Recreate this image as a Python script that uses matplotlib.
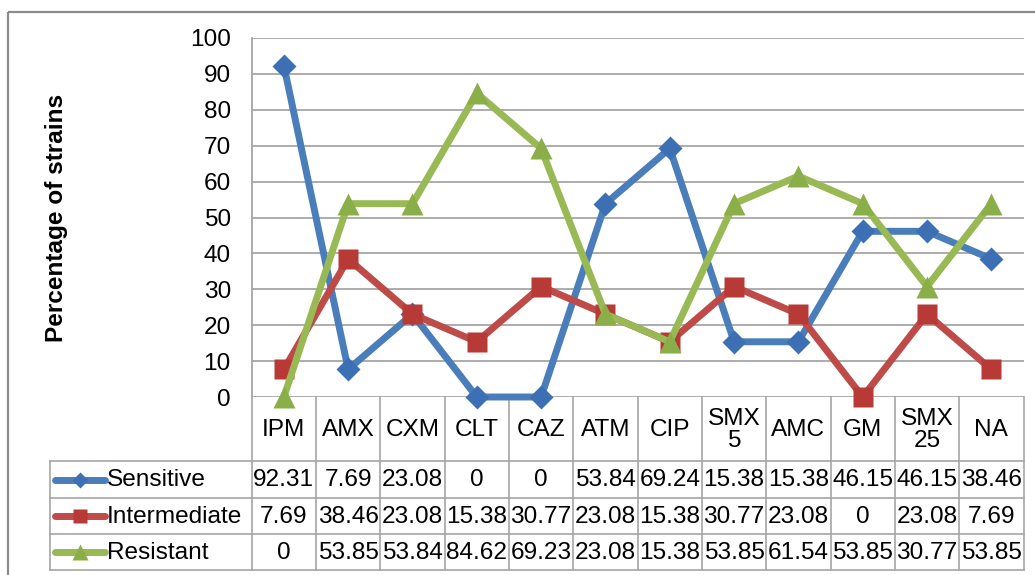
import matplotlib.pyplot as plt
from matplotlib.patches import Rectangle

plt.rcParams['font.family'] = ['Liberation Sans', 'DejaVu Sans']

# data
drugs = ['IPM', 'AMX', 'CXM', 'CLT', 'CAZ', 'ATM', 'CIP', 'SMX\n5', 'AMC', 'GM', 'SMX\n25', 'NA']
sensitive = [92.31, 7.69, 23.08, 0, 0, 53.84, 69.24, 15.38, 15.38, 46.15, 46.15, 38.46]
intermediate = [7.69, 38.46, 23.08, 15.38, 30.77, 23.08, 15.38, 30.77, 23.08, 0, 23.08, 7.69]
resistant = [0, 53.85, 53.84, 84.62, 69.23, 23.08, 15.38, 53.85, 61.54, 53.85, 30.77, 53.85]
series_names = ['Sensitive', 'Intermediate', 'Resistant']
series = [sensitive, intermediate, resistant]

colors = ['#4A7EBB', '#BE4B48', '#98B954']
mcolors = ['#3C6FB4', '#B73A36', '#8AAE48']
markers = ['D', 's', '^']
msizes = [12, 14, 16]
grey = '#A6A6A6'
fs = 17.6

W, H = 1035, 575
fig = plt.figure(figsize=(W / 100, H / 100), dpi=100)

# layout in pixels
left, right, top, bottom = 251.7, 1023.5, 38, 397
row_lines = [461, 498, 534, 570]
tab_left = 50
colw = (right - left) / len(drugs)

# background axes in pixel coords for the data table + outer border
bg = fig.add_axes([0, 0, 1, 1], zorder=0)
bg.set_xlim(0, W)
bg.set_ylim(H, 0)
bg.axis('off')
bg.add_patch(Rectangle((8, 12), W, H, fill=False, ec='#8C8C8C', lw=1.6))

for i in range(len(drugs) + 1):
    bg.plot([left + i * colw] * 2, [bottom, row_lines[-1]], color=grey, lw=1.2)
bg.plot([tab_left, tab_left], [row_lines[0], row_lines[-1]], color=grey, lw=1.2)
for y in row_lines:
    bg.plot([tab_left, right], [y, y], color=grey, lw=1.2)

for i, d in enumerate(drugs):
    bg.text(left + (i + 0.5) * colw, (bottom + row_lines[0]) / 2 + 1, d,
            ha='center', va='center', fontsize=fs, linespacing=0.95)

for r, (name, vals) in enumerate(zip(series_names, series)):
    yc = (row_lines[r] + row_lines[r + 1]) / 2
    bg.plot([55, 105], [yc, yc], color=colors[r], lw=5, solid_capstyle='round')
    bg.plot([80], [yc], marker=markers[r], color=mcolors[r], ms=msizes[r] * 0.7, mec='none')
    bg.text(107, yc + 1, name, ha='left', va='center', fontsize=fs)
    for i, v in enumerate(vals):
        bg.text(left + (i + 0.5) * colw, yc + 1, '{:g}'.format(v),
                ha='center', va='center', fontsize=fs)

# main line chart
ax = fig.add_axes([left / W, 1 - bottom / H, (right - left) / W, (bottom - top) / H], zorder=1)
ax.set_facecolor('none')
x = range(len(drugs))
for r, vals in enumerate(series):
    ax.plot(x, vals, color=colors[r], lw=5, marker=markers[r], ms=msizes[r],
            mfc=mcolors[r], mec='none', clip_on=False, zorder=3 + r)

ax.set_xlim(-0.5, len(drugs) - 0.5)
ax.set_ylim(0, 100)
ax.set_yticks(range(0, 101, 10))
ax.set_xticks([])
ax.yaxis.grid(True, color=grey, lw=1.3)
ax.set_axisbelow(True)
ax.tick_params(axis='y', length=0, pad=15, labelsize=fs)
for s in ['top', 'right', 'bottom']:
    ax.spines[s].set_visible(False)
ax.spines['left'].set_color(grey)
ax.spines['left'].set_linewidth(1.3)

fig.text(57 / W, 1 - 218 / H, 'Percentage of strains', rotation=90,
         ha='center', va='center', fontsize=fs, fontweight='bold')

fig.savefig('out.png', dpi=100)
